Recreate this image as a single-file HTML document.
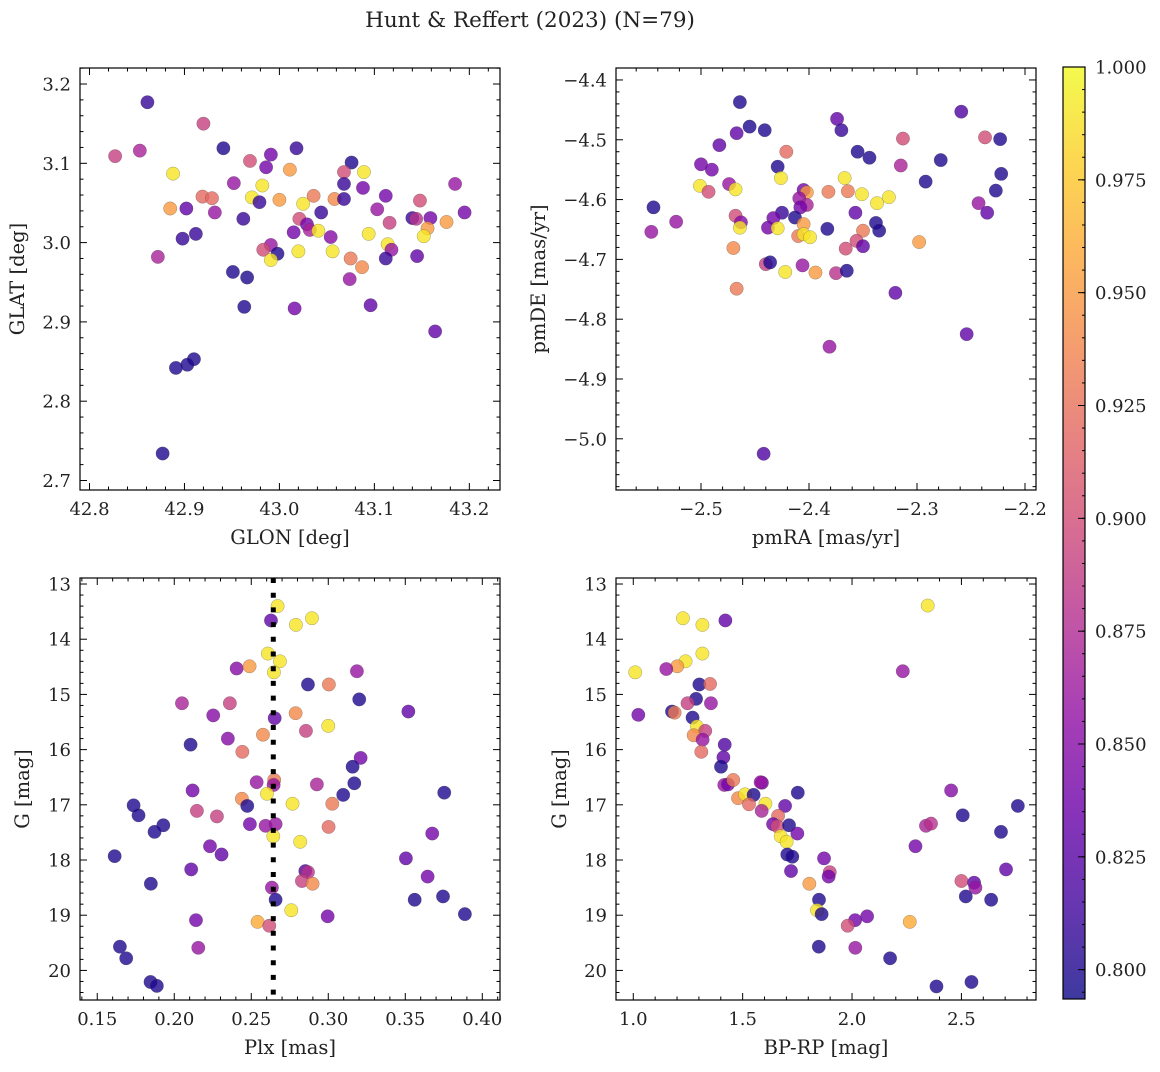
<!DOCTYPE html>
<html><head><meta charset="utf-8">
<style>
html,body{margin:0;padding:0;background:#fff;}
svg text{font-family:"DejaVu Serif","Liberation Serif",serif;fill:#222;}
</style></head>
<body>
<svg id="chart" width="1160" height="1067" viewBox="0 0 1160 1067" xmlns="http://www.w3.org/2000/svg">
<defs>
<linearGradient id="plasma" x1="0" y1="1" x2="0" y2="0">
<stop offset="0" stop-color="#0d0887"/><stop offset="0.1" stop-color="#41049d"/><stop offset="0.2" stop-color="#6a00a8"/><stop offset="0.3" stop-color="#8f0da4"/><stop offset="0.4" stop-color="#b12a90"/><stop offset="0.5" stop-color="#cc4778"/><stop offset="0.6" stop-color="#e16462"/><stop offset="0.7" stop-color="#f2844b"/><stop offset="0.8" stop-color="#fca636"/><stop offset="0.9" stop-color="#fcce25"/><stop offset="1" stop-color="#f0f921"/>
</linearGradient>
</defs>
<text x="530" y="27" font-size="21.5" text-anchor="middle">Hunt &amp; Reffert (2023) (N=79)</text>
<g id="layer"></g>
</svg>
<script>
// ---------- Data: panel 1 (GLON vs GLAT) ----------
const glon1 = [42.861,42.920,42.827,42.853,42.941,42.969,42.991,43.018,42.986,43.011,42.888,43.076,43.068,43.089,42.952,42.982,43.068,43.088,43.185,42.919,42.929,42.971,42.979,43.000,43.025,43.036,43.058,43.068,43.112,43.148,42.885,42.902,42.932,42.962,43.044,43.103,43.195,43.021,43.029,43.032,43.041,43.015,43.054,43.094,43.116,43.140,43.144,43.159,43.176,43.156,43.152,42.898,42.912,42.991,42.983,42.998,42.991,43.020,43.056,43.114,43.118,43.112,43.145,43.075,43.087,42.872,42.951,42.966,43.074,42.963,43.016,43.096,43.164,42.910,42.891,42.903,42.877];
const glat1 = [3.177,3.150,3.109,3.116,3.119,3.103,3.111,3.119,3.095,3.092,3.087,3.101,3.089,3.089,3.075,3.072,3.074,3.069,3.074,3.058,3.056,3.057,3.051,3.054,3.049,3.059,3.055,3.055,3.059,3.053,3.043,3.043,3.038,3.030,3.038,3.042,3.038,3.030,3.023,3.016,3.015,3.013,3.007,3.011,3.025,3.031,3.030,3.031,3.026,3.018,3.008,3.005,3.011,2.997,2.991,2.986,2.978,2.989,2.989,2.998,2.991,2.980,2.983,2.980,2.969,2.982,2.963,2.956,2.954,2.919,2.917,2.921,2.888,2.853,2.842,2.846,2.734];
const prob1 = [.81,.89,.89,.87,.80,.90,.84,.81,.84,.95,.99,.80,.90,.99,.86,.99,.81,.84,.86,.92,.92,.99,.81,.95,.99,.93,.94,.81,.84,.90,.95,.83,.86,.81,.81,.86,.84,.90,.84,.87,.99,.84,.85,.99,.89,.81,.88,.84,.95,.95,.99,.81,.81,.86,.90,.80,.99,.99,.99,.99,.86,.81,.83,.93,.94,.87,.80,.80,.86,.80,.84,.83,.83,.80,.80,.80,.80];
// ---------- Data: panel 2 (pmRA vs pmDE) ----------
const pmra2 = [-2.464,-2.455,-2.467,-2.441,-2.483,-2.374,-2.370,-2.259,-2.313,-2.237,-2.223,-2.421,-2.355,-2.344,-2.315,-2.278,-2.222,-2.292,-2.227,-2.500,-2.490,-2.429,-2.426,-2.367,-2.474,-2.501,-2.493,-2.468,-2.405,-2.402,-2.382,-2.364,-2.351,-2.326,-2.337,-2.243,-2.409,-2.402,-2.408,-2.544,-2.235,-2.357,-2.425,-2.433,-2.413,-2.468,-2.463,-2.464,-2.438,-2.429,-2.405,-2.383,-2.338,-2.335,-2.350,-2.410,-2.405,-2.399,-2.356,-2.350,-2.366,-2.298,-2.523,-2.546,-2.470,-2.440,-2.436,-2.422,-2.406,-2.394,-2.375,-2.365,-2.467,-2.320,-2.254,-2.381,-2.442];
const pmde2 = [-4.437,-4.478,-4.489,-4.484,-4.509,-4.465,-4.484,-4.453,-4.498,-4.496,-4.499,-4.520,-4.520,-4.530,-4.543,-4.534,-4.557,-4.570,-4.585,-4.541,-4.550,-4.545,-4.564,-4.564,-4.574,-4.577,-4.587,-4.583,-4.584,-4.588,-4.587,-4.586,-4.591,-4.596,-4.606,-4.606,-4.598,-4.609,-4.613,-4.613,-4.622,-4.622,-4.622,-4.631,-4.630,-4.627,-4.638,-4.647,-4.647,-4.648,-4.641,-4.649,-4.639,-4.652,-4.652,-4.661,-4.658,-4.663,-4.669,-4.678,-4.682,-4.671,-4.637,-4.654,-4.681,-4.708,-4.705,-4.721,-4.710,-4.722,-4.723,-4.719,-4.749,-4.756,-4.825,-4.846,-5.025];
const prob2 = [.80,.80,.83,.80,.83,.83,.81,.82,.90,.90,.80,.92,.80,.80,.87,.80,.80,.80,.80,.84,.84,.80,.99,.99,.86,.99,.90,.99,.84,.95,.93,.93,.99,.99,.99,.86,.86,.87,.84,.80,.83,.83,.81,.84,.80,.90,.85,.99,.84,.99,.95,.80,.80,.80,.93,.93,.99,.99,.90,.83,.90,.95,.86,.86,.94,.89,.80,.99,.86,.95,.88,.80,.93,.83,.83,.86,.82];
// ---------- Data: panel 3 (Plx vs G) ----------
const plx3 = [.2671,.2628,.2790,.2894,.2608,.2686,.2647,.2405,.2489,.3186,.2868,.3004,.3201,.2050,.2361,.2253,.2652,.2788,.3000,.2855,.3520,.2348,.2576,.2106,.2442,.3210,.3158,.3169,.3097,.3753,.2535,.2649,.2645,.2926,.2119,.2602,.2439,.2474,.2768,.3026,.1736,.1768,.2147,.2277,.1929,.1872,.2491,.2593,.2658,.3002,.2643,.2818,.3675,.2232,.2307,.1613,.3504,.2110,.2851,.2868,.2829,.2898,.3645,.1848,.2634,.2658,.3561,.3745,.2760,.3887,.2141,.2996,.2541,.2617,.2156,.1647,.1688,.1846,.1887];
const gmag3 = [13.40,13.66,13.74,13.62,14.26,14.40,14.60,14.53,14.49,14.58,14.82,14.82,15.09,15.16,15.16,15.38,15.43,15.34,15.57,15.66,15.31,15.80,15.73,15.91,16.04,16.15,16.31,16.61,16.82,16.78,16.59,16.55,16.64,16.63,16.74,16.80,16.89,17.02,16.98,16.98,17.01,17.19,17.11,17.21,17.37,17.49,17.35,17.38,17.35,17.40,17.57,17.67,17.52,17.75,17.90,17.93,17.97,18.17,18.20,18.22,18.38,18.43,18.30,18.43,18.50,18.72,18.72,18.66,18.91,18.98,19.09,19.02,19.12,19.19,19.59,19.57,19.78,20.21,20.28];
const prob3 = [.99,.83,.99,.99,.99,.99,.99,.85,.95,.86,.80,.93,.80,.87,.89,.85,.83,.94,.99,.89,.83,.85,.94,.80,.92,.84,.80,.80,.80,.80,.86,.93,.86,.87,.84,.99,.94,.80,.99,.93,.80,.80,.89,.89,.80,.80,.84,.86,.86,.92,.99,.99,.84,.84,.83,.80,.83,.83,.82,.88,.89,.94,.84,.80,.86,.80,.80,.80,.99,.80,.84,.84,.96,.90,.86,.80,.80,.80,.80];
const plxLine = 0.2643;
// ---------- Data: panel 4 (BP-RP vs G) ----------
const bprp4 = [2.346,1.227,1.316,1.421,1.316,1.239,1.201,1.151,1.009,2.232,1.302,1.351,1.287,1.248,1.355,1.023,1.177,1.189,1.271,1.291,1.329,1.276,1.317,1.418,1.311,1.412,1.401,1.416,1.433,1.457,1.588,1.582,1.752,1.479,1.511,1.550,1.529,1.604,1.587,1.694,1.662,1.639,1.659,1.712,1.750,1.674,1.701,1.704,1.727,1.721,1.872,1.898,1.893,1.805,1.849,1.840,1.861,1.848,2.014,1.980,2.069,2.015,2.174,2.264,2.386,2.546,2.453,2.506,2.758,2.338,2.361,2.681,2.290,2.704,2.500,2.558,2.564,2.520,2.636];
const gmag4 = [13.39,13.62,13.74,13.66,14.26,14.40,14.49,14.54,14.60,14.58,14.82,14.81,15.08,15.16,15.16,15.37,15.31,15.33,15.42,15.58,15.66,15.74,15.82,15.91,16.04,16.14,16.31,16.64,16.63,16.55,16.60,16.59,16.78,16.88,16.81,16.82,16.99,16.98,17.11,17.02,17.20,17.35,17.39,17.37,17.52,17.57,17.67,17.90,17.94,18.20,17.97,18.22,18.30,18.43,18.72,18.91,18.98,19.57,19.09,19.19,19.02,19.59,19.78,19.12,20.29,20.21,16.74,17.19,17.02,17.38,17.34,17.49,17.75,18.17,18.38,18.41,18.50,18.66,18.72];
const prob4 = [.99,.99,.99,.83,.99,.99,.95,.86,.99,.86,.80,.92,.80,.89,.86,.84,.80,.93,.80,.99,.89,.94,.86,.82,.92,.83,.80,.86,.84,.93,.84,.86,.80,.94,.99,.80,.92,.99,.87,.83,.92,.84,.90,.80,.84,.99,.99,.80,.80,.83,.84,.89,.84,.95,.80,.99,.80,.80,.84,.90,.84,.86,.80,.96,.80,.80,.85,.80,.80,.87,.88,.80,.84,.83,.90,.83,.86,.80,.80];
// ---------- Colorbar ----------
const cbTicks = [0.800,0.825,0.850,0.875,0.900,0.925,0.950,0.975,1.000];
const vmin = 0.7935, vmax = 1.0;

const NS = "http://www.w3.org/2000/svg";
const layer = document.getElementById('layer');
const TICKFS = 18, LABFS = 19.5;
function mk(tag, attrs, parent){const e=document.createElementNS(NS,tag);for(const k in attrs)e.setAttribute(k,attrs[k]);(parent||layer).appendChild(e);return e;}
const stops=[[0,[13,8,135]],[.1,[65,4,157]],[.2,[106,0,168]],[.3,[143,13,164]],[.4,[177,42,144]],[.5,[204,71,120]],[.6,[225,100,98]],[.7,[242,132,75]],[.8,[252,166,54]],[.9,[252,206,37]],[1,[240,249,33]]];
function plasma(v){let t=(v-vmin)/(vmax-vmin);t=Math.max(0,Math.min(1,t));for(let i=1;i<stops.length;i++){if(t<=stops[i][0]){const a=stops[i-1],b=stops[i];const f=(t-a[0])/(b[0]-a[0]);const c=a[1].map((x,j)=>Math.round(x+(b[1][j]-x)*f));return `rgb(${c[0]},${c[1]},${c[2]})`;}}return 'rgb(240,249,33)';}
function fmt(v,d){const s=Math.abs(v).toFixed(d);return (v<-1e-9?'\u2212':'')+s;}

function panel(cfg){
  const g=mk('g',{});
  
  
  const sx=v=>cfg.x0+(v-cfg.xd[0])/(cfg.xd[1]-cfg.xd[0])*(cfg.x1-cfg.x0);
  const sy=v=>cfg.y0+(v-cfg.yd[0])/(cfg.yd[1]-cfg.yd[0])*(cfg.y1-cfg.y0);
  const pg=mk('g',{},g);
  
  
  for(let i=0;i<cfg.xs.length;i++){
    const c=mk('circle',{cx:sx(cfg.xs[i]),cy:sy(cfg.ys[i]),r:6.7,fill:plasma(cfg.ps[i]),'fill-opacity':0.8,stroke:'rgba(60,60,60,0.45)','stroke-width':0.5},pg);
    
    
  }
  if(cfg.vline!==undefined){
    const l=mk('line',{x1:sx(cfg.vline),x2:sx(cfg.vline),y1:cfg.y0,y2:cfg.y1,stroke:'#000','stroke-width':5,'stroke-dasharray':'5 9.7'},g);
    
    
  }
  const fr=mk('rect',{x:cfg.x0,y:cfg.y0,width:cfg.x1-cfg.x0,height:cfg.y1-cfg.y0,fill:'none',stroke:'#000','stroke-width':1.2},g);
  
  
  const xa=mk('g',{},g);
  
  
  const [xlo,xhi]=[Math.min(...cfg.xd),Math.max(...cfg.xd)];
  for(let k=Math.ceil(xlo/cfg.xmin-1e-6);k*cfg.xmin<=xhi+1e-9;k++){
    const v=k*cfg.xmin,px=sx(v);
    const isMaj=Math.abs(v/cfg.xmaj-Math.round(v/cfg.xmaj))<1e-4;
    const L=isMaj?7:3.5;
    mk('line',{x1:px,x2:px,y1:cfg.y1,y2:cfg.y1-L,stroke:'#000','stroke-width':1},xa);
    mk('line',{x1:px,x2:px,y1:cfg.y0,y2:cfg.y0+L,stroke:'#000','stroke-width':1},xa);
    if(isMaj){const t=mk('text',{x:px,y:cfg.y1+25,'font-size':TICKFS,'text-anchor':'middle'},xa);t.textContent=fmt(v,cfg.xdec);}
  }
  const xl=mk('text',{x:(cfg.x0+cfg.x1)/2,y:cfg.y1+54,'font-size':LABFS,'text-anchor':'middle'},g);
  xl.textContent=cfg.xlabel;
  
  
  const ya=mk('g',{},g);
  
  
  const [ylo,yhi]=[Math.min(...cfg.yd),Math.max(...cfg.yd)];
  for(let k=Math.ceil(ylo/cfg.ymin-1e-6);k*cfg.ymin<=yhi+1e-9;k++){
    const v=k*cfg.ymin,py=sy(v);
    const isMaj=Math.abs(v/cfg.ymaj-Math.round(v/cfg.ymaj))<1e-4;
    const L=isMaj?7:3.5;
    mk('line',{x1:cfg.x0,x2:cfg.x0+L,y1:py,y2:py,stroke:'#000','stroke-width':1},ya);
    mk('line',{x1:cfg.x1,x2:cfg.x1-L,y1:py,y2:py,stroke:'#000','stroke-width':1},ya);
    if(isMaj){const t=mk('text',{x:cfg.x0-9,y:py+6.5,'font-size':TICKFS,'text-anchor':'end'},ya);t.textContent=fmt(v,cfg.ydec);}
  }
  const yl=mk('text',{x:0,y:0,'font-size':LABFS,'text-anchor':'middle',transform:`translate(${cfg.ylx},${(cfg.y0+cfg.y1)/2}) rotate(-90)`},g);
  yl.textContent=cfg.ylabel;
  
  
}

panel({name:'glon-glat-panel',x0:80,x1:500,y0:68,y1:490,xd:[42.790,43.2323],yd:[3.2202,2.688],xmaj:0.1,xmin:0.02,ymaj:0.1,ymin:0.02,xdec:1,ydec:1,xs:glon1,ys:glat1,ps:prob1,xlabel:'GLON [deg]',ylabel:'GLAT [deg]',ylx:24});
panel({name:'proper-motion-panel',x0:616,x1:1036,y0:68,y1:490,xd:[-2.5787,-2.1898],yd:[-4.380,-5.0856],xmaj:0.1,xmin:0.02,ymaj:0.1,ymin:0.02,xdec:1,ydec:1,xs:pmra2,ys:pmde2,ps:prob2,xlabel:'pmRA [mas/yr]',ylabel:'pmDE [mas/yr]',ylx:545});
panel({name:'parallax-panel',x0:80,x1:500,y0:578,y1:1000,xd:[0.1388,0.4115],yd:[12.891,20.536],xmaj:0.05,xmin:0.01,ymaj:1,ymin:0.2,xdec:2,ydec:0,xs:plx3,ys:gmag3,ps:prob3,xlabel:'Plx [mas]',ylabel:'G [mag]',ylx:29,vline:plxLine});
panel({name:'cmd-panel',x0:616,x1:1036,y0:578,y1:1000,xd:[0.921,2.841],yd:[12.891,20.536],xmaj:0.5,xmin:0.1,ymaj:1,ymin:0.2,xdec:1,ydec:0,xs:bprp4,ys:gmag4,ps:prob4,xlabel:'BP-RP [mag]',ylabel:'G [mag]',ylx:566});

(function(){
  const cx0=1063,cx1=1085,cy0=67,cy1=999;
  const g=mk('g',{});
  
  
  mk('rect',{x:cx0,y:cy0,width:cx1-cx0,height:cy1-cy0,fill:'url(#plasma)','fill-opacity':0.8},g);
  mk('rect',{x:cx0,y:cy0,width:cx1-cx0,height:cy1-cy0,fill:'none',stroke:'#000','stroke-width':1.2},g);
  const sy=v=>cy1-(v-vmin)/(vmax-vmin)*(cy1-cy0);
  for(let k=Math.ceil(vmin/0.005);k*0.005<=vmax+1e-9;k++){
    const v=k*0.005,py=sy(v);
    mk('line',{x1:cx1,x2:cx1-3,y1:py,y2:py,stroke:'#000','stroke-width':1},g);
  }
  cbTicks.forEach(v=>{
    const py=sy(v);
    mk('line',{x1:cx1,x2:cx1-7,y1:py,y2:py,stroke:'#000','stroke-width':1},g);
    const t=mk('text',{x:cx1+10,y:py+6.5,'font-size':TICKFS},g);
    t.textContent=v.toFixed(3);
    
    
  });
})();
</script>
</body></html>
